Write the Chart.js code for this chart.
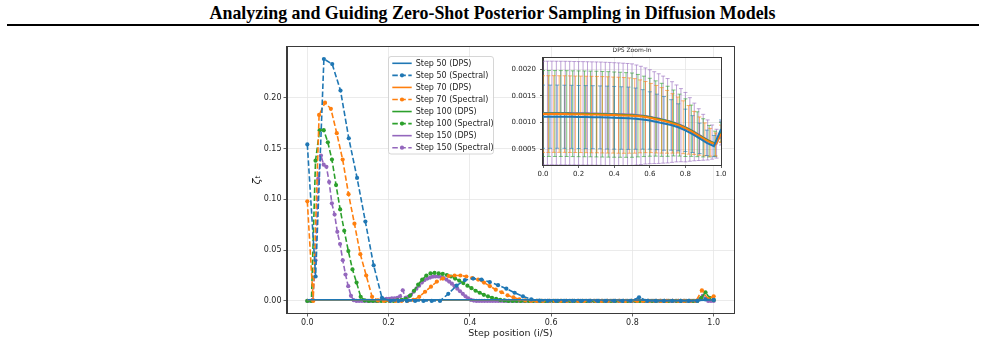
<!DOCTYPE html>
<html>
<head>
<meta charset="utf-8">
<script src="https://cdn.jsdelivr.net/npm/chart.js@4.4.1/dist/chart.umd.min.js"></script>
<style>
  html, body { margin: 0; padding: 0; background: #fff; }
  body { width: 985px; height: 346px; position: relative; overflow: hidden; }
  #title { position: absolute; left: 0; top: 2px; width: 985px; text-align: center;
    font-family: "Liberation Serif", "Times New Roman", serif; font-weight: bold;
    font-size: 19px; line-height: 22px; white-space: nowrap; color: #000; }
  #title span { display: inline-block; transform-origin: center; }
  #rule { position: absolute; left: 7px; width: 972px; top: 24px; height: 2px; background: #000; }
  #mainChart { position: absolute; left: 240px; top: 40px; }
  #insetChart { position: absolute; left: 500px; top: 42px; }
</style>
</head>
<body>
<div id="title"><span>Analyzing and Guiding Zero-Shot Posterior Sampling in Diffusion Models</span></div>
<div id="rule"></div>
<canvas id="mainChart" width="500" height="306"></canvas>
<canvas id="insetChart" width="230" height="140"></canvas>
<script>
// ---- data ----
const steps = [50, 70, 100, 150];
const seriesColors = ["#1f77b4", "#ff7f0e", "#2ca02c", "#9467bd"];
const seriesFaded = ["rgba(31,119,180,0.6)", "rgba(255,127,14,0.6)", "rgba(44,160,44,0.6)", "rgba(148,103,189,0.6)"];

const mainXTicks = [0, 0.2, 0.4, 0.6, 0.8, 1.0];
const mainYTicks = [0, 0.05, 0.10, 0.15, 0.20];
const insetXTicks = [0, 0.2, 0.4, 0.6, 0.8, 1.0];
const insetYTicks = [0.0005, 0.0010, 0.0015, 0.0020];

// Spectral zeta_t, one value per step position i/S
const spectral50 = [
  0.154, 0.024, 0.238, 0.233, 0.207, 0.160, 0.121, 0.078, 0.035, 0.003,
  0, 0, 0, 0, 0, 0, 0, 0.007, 0.015, 0.0205,
  0.022, 0.021, 0.0185, 0.0155, 0.012, 0.008, 0.0045, 0.0015, 0.0003, 0,
  0, 0, 0, 0, 0, 0, 0, 0, 0, 0,
  0.0035, 0, 0, 0, 0, 0, 0, 0, 0.0015, 0.001
];
const spectral70 = [
  0.098, 0, 0.183, 0.195, 0.189, 0.165, 0.139, 0.105, 0.076, 0.046,
  0.025, 0.004, 0.0005, 0, 0, 0, 0, 0, 0.001, 0.004,
  0.009, 0.014, 0.019, 0.022, 0.0245, 0.025, 0.025, 0.024, 0.0225, 0.021,
  0.018, 0.0145, 0.011, 0.0085, 0.0055, 0.0035, 0.0015, 0.0005, 0, 0,
  0, 0, 0, 0, 0, 0, 0, 0, 0, 0,
  0, 0, 0, 0, 0, 0, 0, 0, 0, 0,
  0, 0, 0, 0, 0, 0, 0, 0.0105, 0.002, 0.0045
];
const spectral100 = [
  0, 0, 0.138, 0.168, 0.168, 0.156, 0.139, 0.114, 0.090, 0.069,
  0.049, 0.031, 0.018, 0.004, 0.0005, 0, 0, 0, 0, 0,
  0, 0, 0.0005, 0.001, 0.002, 0.005, 0.010, 0.016, 0.021, 0.025,
  0.027, 0.0275, 0.027, 0.0265, 0.0255, 0.024, 0.022, 0.020, 0.0175, 0.015,
  0.0125, 0.010, 0.008, 0.006, 0.0045, 0.003, 0.002, 0.001, 0.0005, 0,
  0, 0, 0, 0, 0, 0, 0, 0, 0, 0,
  0, 0, 0, 0, 0, 0, 0, 0, 0, 0,
  0, 0, 0, 0, 0, 0, 0, 0, 0, 0,
  0, 0, 0, 0, 0, 0, 0, 0, 0, 0,
  0, 0, 0, 0, 0, 0, 0.003, 0.0085, 0.003, 0.001
];
const spectral150 = [
  0, 0, 0.001, 0.040, 0.120, 0.143, 0.134, 0.132, 0.117, 0.096,
  0.085, 0.068, 0.056, 0.040, 0.026, 0.0145, 0.005, 0.0007, 0, 0,
  0, 0, 0, 0, 0, 0, 0, 0.0005, 0.0015, 0.002,
  0.002, 0.0025, 0.0025, 0.003, 0.0045, 0.0105, 0.003, 0.004, 0.006, 0.009,
  0.012, 0.015, 0.018, 0.0205, 0.022, 0.023, 0.0238, 0.024, 0.024, 0.0235,
  0.0225, 0.021, 0.019, 0.017, 0.0145, 0.012, 0.0095, 0.007, 0.0045, 0.0025,
  0.001, 0.0003, 0, 0, 0, 0, 0, 0, 0, 0,
  0, 0, 0, 0, 0, 0, 0, 0, 0, 0,
  0, 0, 0, 0, 0, 0, 0, 0, 0, 0,
  0, 0, 0, 0, 0, 0, 0, 0, 0, 0,
  0, 0, 0, 0, 0, 0, 0, 0, 0, 0,
  0, 0, 0, 0, 0, 0, 0, 0, 0, 0,
  0, 0, 0, 0, 0, 0, 0, 0, 0, 0,
  0, 0, 0, 0, 0, 0, 0, 0, 0, 0,
  0, 0, 0, 0, 0.002, 0.005, 0.002, 0, 0, 0
];

// DPS zeta_t: mean and spread (error bars)
const dpsMean50 = [
  1.110e-3, 1.110e-3, 1.111e-3, 1.109e-3, 1.108e-3, 1.105e-3, 1.103e-3, 1.101e-3, 1.098e-3, 1.094e-3,
  1.090e-3, 1.086e-3, 1.082e-3, 1.074e-3, 1.060e-3, 1.040e-3, 1.013e-3, 0.985e-3, 0.956e-3, 0.912e-3,
  0.855e-3, 0.785e-3, 0.705e-3, 0.621e-3, 0.560e-3, 0.880e-3
];
const dpsStd50 = [
  0.592e-3, 0.592e-3, 0.592e-3, 0.591e-3, 0.591e-3, 0.590e-3, 0.590e-3, 0.590e-3, 0.589e-3, 0.589e-3,
  0.587e-3, 0.585e-3, 0.583e-3, 0.573e-3, 0.557e-3, 0.537e-3, 0.520e-3, 0.503e-3, 0.473e-3, 0.440e-3,
  0.397e-3, 0.345e-3, 0.285e-3, 0.238e-3, 0.200e-3, 0.170e-3
];
const dpsMean70 = [
  1.160e-3, 1.160e-3, 1.161e-3, 1.160e-3, 1.160e-3, 1.158e-3, 1.156e-3, 1.155e-3, 1.153e-3, 1.151e-3,
  1.150e-3, 1.147e-3, 1.144e-3, 1.141e-3, 1.138e-3, 1.135e-3, 1.132e-3, 1.126e-3, 1.117e-3, 1.103e-3,
  1.086e-3, 1.064e-3, 1.042e-3, 1.015e-3, 0.985e-3, 0.955e-3, 0.913e-3, 0.864e-3, 0.808e-3, 0.748e-3,
  0.687e-3, 0.632e-3, 0.590e-3, 0.790e-3
];
const dpsStd70 = [
  0.718e-3, 0.718e-3, 0.718e-3, 0.717e-3, 0.717e-3, 0.717e-3, 0.716e-3, 0.716e-3, 0.716e-3, 0.716e-3,
  0.715e-3, 0.715e-3, 0.714e-3, 0.712e-3, 0.711e-3, 0.709e-3, 0.705e-3, 0.698e-3, 0.683e-3, 0.666e-3,
  0.648e-3, 0.632e-3, 0.613e-3, 0.588e-3, 0.556e-3, 0.524e-3, 0.495e-3, 0.455e-3, 0.403e-3, 0.358e-3,
  0.307e-3, 0.260e-3, 0.215e-3, 0.163e-3
];
const dpsMean100 = [
  1.170e-3, 1.171e-3, 1.170e-3, 1.170e-3, 1.169e-3, 1.167e-3, 1.165e-3, 1.164e-3, 1.162e-3, 1.160e-3,
  1.157e-3, 1.154e-3, 1.150e-3, 1.147e-3, 1.143e-3, 1.140e-3, 1.130e-3, 1.117e-3, 1.100e-3, 1.077e-3,
  1.052e-3, 1.025e-3, 0.993e-3, 0.953e-3, 0.905e-3, 0.848e-3, 0.782e-3, 0.715e-3, 0.652e-3, 0.605e-3,
  0.820e-3
];
const dpsStd100 = [
  0.805e-3, 0.805e-3, 0.805e-3, 0.804e-3, 0.804e-3, 0.803e-3, 0.803e-3, 0.803e-3, 0.802e-3, 0.802e-3,
  0.801e-3, 0.800e-3, 0.798e-3, 0.796e-3, 0.793e-3, 0.789e-3, 0.772e-3, 0.753e-3, 0.730e-3, 0.705e-3,
  0.684e-3, 0.656e-3, 0.617e-3, 0.580e-3, 0.540e-3, 0.480e-3, 0.420e-3, 0.357e-3, 0.295e-3, 0.235e-3,
  0.183e-3
];
const dpsMean150 = [
  1.180e-3, 1.180e-3, 1.181e-3, 1.180e-3, 1.180e-3, 1.179e-3, 1.178e-3, 1.176e-3, 1.175e-3, 1.174e-3,
  1.173e-3, 1.171e-3, 1.170e-3, 1.168e-3, 1.165e-3, 1.163e-3, 1.160e-3, 1.158e-3, 1.155e-3, 1.152e-3,
  1.150e-3, 1.143e-3, 1.135e-3, 1.124e-3, 1.110e-3, 1.093e-3, 1.075e-3, 1.056e-3, 1.035e-3, 1.011e-3,
  0.985e-3, 0.952e-3, 0.915e-3, 0.872e-3, 0.825e-3, 0.775e-3, 0.725e-3, 0.675e-3, 0.635e-3, 0.605e-3,
  0.800e-3
];
const dpsStd150 = [
  0.970e-3, 0.970e-3, 0.970e-3, 0.970e-3, 0.969e-3, 0.969e-3, 0.969e-3, 0.968e-3, 0.968e-3, 0.968e-3,
  0.967e-3, 0.967e-3, 0.966e-3, 0.966e-3, 0.965e-3, 0.964e-3, 0.962e-3, 0.960e-3, 0.958e-3, 0.955e-3,
  0.950e-3, 0.936e-3, 0.920e-3, 0.900e-3, 0.880e-3, 0.860e-3, 0.840e-3, 0.815e-3, 0.790e-3, 0.755e-3,
  0.720e-3, 0.685e-3, 0.650e-3, 0.595e-3, 0.540e-3, 0.485e-3, 0.430e-3, 0.375e-3, 0.320e-3, 0.270e-3,
  0.220e-3
];

const spectralSeries = [spectral50, spectral70, spectral100, spectral150];
const dpsMeans = [dpsMean50, dpsMean70, dpsMean100, dpsMean150];
const dpsStds = [dpsStd50, dpsStd70, dpsStd100, dpsStd150];

// ---- helpers ----
const font = "DejaVu Sans";
const gridColor = "#e6e6e6";
const spineColor = "#3a3a3a";
const textColor = "#1e1e1e";

// step position i/S for every stored value
const toPoints = (vals) => vals.map((v, i) => ({ x: i / (vals.length - 1), y: v }));

const mainDatasets = [];
steps.forEach((s, k) => {
  mainDatasets.push({
    label: `Step ${s} (DPS)`,
    kind: "dps",
    data: toPoints(dpsMeans[k]),
    borderColor: seriesColors[k],
    borderWidth: 1.6,
    pointRadius: 0,
    tension: 0,
    fill: false
  });
  mainDatasets.push({
    label: `Step ${s} (Spectral)`,
    kind: "spectral",
    data: toPoints(spectralSeries[k]),
    borderColor: seriesColors[k],
    borderWidth: 1.6,
    borderDash: [5.5, 2.5],
    pointRadius: 2.1,
    pointBorderWidth: 0,
    pointBackgroundColor: seriesColors[k],
    pointBorderColor: seriesColors[k],
    tension: 0,
    fill: false
  });
});

const insetDatasets = steps.map((s, k) => ({
  label: `Step ${s} (DPS)`,
  data: toPoints(dpsMeans[k]),
  err: dpsStds[k],
  errColor: seriesFaded[k],
  borderColor: seriesColors[k],
  borderWidth: 2,
  pointRadius: 0,
  tension: 0,
  fill: false
}));

// box around the plotting area (top/right spines too)
const framePlugin = {
  id: "frame",
  afterDatasetsDraw(chart) {
    const { ctx, chartArea: a } = chart;
    ctx.save();
    ctx.strokeStyle = spineColor;
    ctx.lineWidth = 1;
    ctx.strokeRect(Math.round(a.left) - 0.5, Math.round(a.top) - 0.5,
      Math.round(a.right - a.left) + 1, Math.round(a.bottom - a.top) + 1);
    ctx.restore();
  }
};

const legendPlugin = {
  id: "innerLegend",
  afterDraw(chart) {
    const ctx = chart.ctx;
    ctx.save();
    const bx = 148.5, by = 16.5, bw = 105, bh = 97.5, r = 2.5;
    ctx.beginPath();
    ctx.moveTo(bx + r, by);
    ctx.arcTo(bx + bw, by, bx + bw, by + bh, r);
    ctx.arcTo(bx + bw, by + bh, bx, by + bh, r);
    ctx.arcTo(bx, by + bh, bx, by, r);
    ctx.arcTo(bx, by, bx + bw, by, r);
    ctx.closePath();
    ctx.fillStyle = "rgba(255,255,255,0.85)";
    ctx.fill();
    ctx.strokeStyle = "#cccccc";
    ctx.lineWidth = 0.8;
    ctx.stroke();

    ctx.font = `8px "${font}"`;
    ctx.textBaseline = "middle";
    ctx.textAlign = "left";
    chart.data.datasets.forEach((ds, i) => {
      const y = 23.3 + i * 12.06;
      ctx.strokeStyle = ds.borderColor;
      ctx.lineWidth = ds.borderWidth;
      ctx.setLineDash(ds.kind === "spectral" ? [5.5, 2.5] : []);
      ctx.beginPath();
      ctx.moveTo(152.3, y);
      ctx.lineTo(171.7, y);
      ctx.stroke();
      ctx.setLineDash([]);
      if (ds.kind === "spectral") {
        ctx.fillStyle = ds.borderColor;
        ctx.beginPath();
        ctx.arc(162, y, 2.1, 0, Math.PI * 2);
        ctx.fill();
      }
      ctx.fillStyle = textColor;
      ctx.fillText(ds.label, 175.7, y + 0.5);
    });
    ctx.restore();
  }
};

const insetBgPlugin = {
  id: "insetBg",
  beforeDraw(chart) {
    const { ctx, chartArea: a } = chart;
    ctx.save();
    ctx.fillStyle = "#ffffff";
    ctx.fillRect(a.left, a.top, a.right - a.left, a.bottom - a.top);
    ctx.restore();
  },
  afterDraw(chart) {
    const { ctx, chartArea: a } = chart;
    ctx.save();
    ctx.font = `6px "${font}"`;
    ctx.fillStyle = textColor;
    ctx.textAlign = "center";
    ctx.textBaseline = "middle";
    ctx.fillText("DPS Zoom-In", (a.left + a.right) / 2, 8.7);
    ctx.restore();
  }
};

const errorBarPlugin = {
  id: "errorBars",
  beforeDatasetsDraw(chart) {
    const { ctx, chartArea: a, scales: { x, y } } = chart;
    ctx.save();
    ctx.beginPath();
    ctx.rect(a.left, a.top, a.right - a.left, a.bottom - a.top);
    ctx.clip();
    ctx.lineWidth = 1;
    for (let d = chart.data.datasets.length - 1; d >= 0; d--) {
      const ds = chart.data.datasets[d];
      ctx.strokeStyle = ds.errColor;
      ds.data.forEach((p, i) => {
        const px = x.getPixelForValue(p.x);
        const top = y.getPixelForValue(p.y + ds.err[i]);
        const bot = y.getPixelForValue(p.y - ds.err[i]);
        ctx.beginPath();
        ctx.moveTo(px, top); ctx.lineTo(px, bot);
        ctx.moveTo(px - 2, top); ctx.lineTo(px + 2, top);
        ctx.moveTo(px - 2, bot); ctx.lineTo(px + 2, bot);
        ctx.stroke();
      });
    }
    ctx.restore();
  }
};

// ---- main chart ----
new Chart(document.getElementById("mainChart"), {
  type: "line",
  data: { datasets: mainDatasets },
  options: {
    responsive: false,
    animation: false,
    events: [],
    layout: { padding: { top: 6, right: 6, left: 0, bottom: 0 } },
    plugins: { legend: { display: false }, tooltip: { enabled: false } },
    scales: {
      x: {
        type: "linear",
        min: -0.05,
        max: 1.05,
        afterBuildTicks: (axis) => { axis.ticks = mainXTicks.map((v) => ({ value: v })); },
        afterFit: (axis) => { axis.height = 33; },
        ticks: {
          callback: (v) => v.toFixed(1),
          font: { family: font, size: 8 },
          color: textColor,
          padding: 2,
          maxRotation: 0,
          autoSkip: false
        },
        grid: { color: gridColor, lineWidth: 0.8, tickColor: spineColor, tickLength: 3.5 },
        border: { color: spineColor, width: 1 },
        title: {
          display: true,
          text: "Step position (i/S)",
          font: { family: font, size: 9.5 },
          color: textColor,
          padding: { top: 0, bottom: 6.3 }
        }
      },
      y: {
        type: "linear",
        min: -0.0119,
        max: 0.25,
        afterBuildTicks: (axis) => { axis.ticks = mainYTicks.map((v) => ({ value: v })); },
        afterFit: (axis) => { axis.width = 47; },
        ticks: {
          callback: (v) => v.toFixed(2),
          font: { family: font, size: 8 },
          color: textColor,
          padding: 2,
          autoSkip: false
        },
        grid: { color: gridColor, lineWidth: 0.8, tickColor: spineColor, tickLength: 3.5 },
        border: { color: spineColor, width: 1 },
        title: {
          display: true,
          text: "ζₜ",
          font: { family: font, size: 11, style: "italic" },
          color: textColor,
          padding: { top: 11, bottom: 0 }
        }
      }
    }
  },
  plugins: [framePlugin, legendPlugin]
});

// ---- inset chart ----
new Chart(document.getElementById("insetChart"), {
  type: "line",
  data: { datasets: insetDatasets },
  options: {
    responsive: false,
    animation: false,
    events: [],
    layout: { padding: { top: 16, right: 9, left: 0, bottom: 0 } },
    plugins: { legend: { display: false }, tooltip: { enabled: false } },
    scales: {
      x: {
        type: "linear",
        min: 0,
        max: 1,
        afterBuildTicks: (axis) => { axis.ticks = insetXTicks.map((v) => ({ value: v })); },
        afterFit: (axis) => { axis.height = 17; },
        ticks: {
          callback: (v) => v.toFixed(1),
          font: { family: font, size: 7 },
          color: textColor,
          padding: 1.5,
          maxRotation: 0,
          autoSkip: false
        },
        grid: { color: gridColor, lineWidth: 0.8, tickColor: spineColor, tickLength: 3 },
        border: { color: spineColor, width: 1 }
      },
      y: {
        type: "linear",
        min: 0.000206,
        max: 0.00221,
        afterBuildTicks: (axis) => { axis.ticks = insetYTicks.map((v) => ({ value: v })); },
        afterFit: (axis) => { axis.width = 43; },
        ticks: {
          callback: (v) => v.toFixed(4),
          font: { family: font, size: 7 },
          color: textColor,
          padding: 4,
          autoSkip: false
        },
        grid: { color: gridColor, lineWidth: 0.8, tickColor: spineColor, tickLength: 3 },
        border: { color: spineColor, width: 1 }
      }
    }
  },
  plugins: [insetBgPlugin, errorBarPlugin, framePlugin]
});

// squeeze the heading to the width it has in the figure
const titleSpan = document.querySelector("#title span");
const tw = titleSpan.getBoundingClientRect().width;
titleSpan.style.transform = `scaleX(${566 / tw})`;
</script>
</body>
</html>
